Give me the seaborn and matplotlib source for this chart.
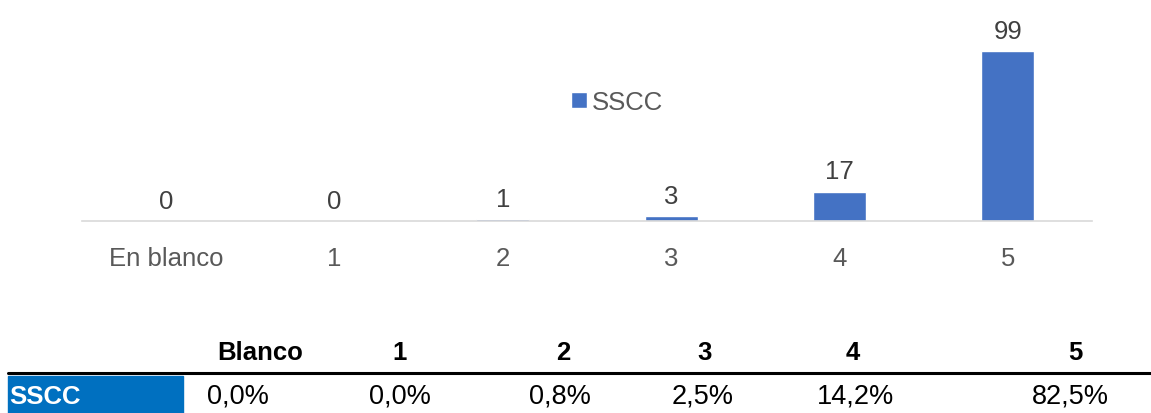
import numpy as np
import pandas as pd
import matplotlib
matplotlib.use("Agg")
import matplotlib.pyplot as plt
import seaborn as sns

# data
categories = ["En blanco", "1", "2", "3", "4", "5"]
counts = [0, 0, 1, 3, 17, 99]
table_header = ["Blanco", "1", "2", "3", "4", "5"]
table_values = ["0,0%", "0,0%", "0,8%", "2,5%", "14,2%", "82,5%"]
series_name = "SSCC"

sns.set_style("white")
plt.rcParams["font.family"] = ["Liberation Sans", "DejaVu Sans"]

df = pd.DataFrame({"cat": categories, "n": counts, "serie": series_name})

fig = plt.figure(figsize=(11.51, 4.14), dpi=100)
ax = fig.add_axes([82 / 1151, 192 / 414, 1010 / 1151, 212 / 414])

sns.barplot(data=df, x="cat", y="n", hue="serie", palette=["#4472C4"],
            saturation=1, width=0.315, ax=ax, legend=True)
ax.set_ylim(0, 123.5)
ax.set_xlim(-0.5, 5.5)
ax.set_xlabel("")
ax.set_ylabel("")
ax.set_yticks([])
for s in ["top", "left", "right"]:
    ax.spines[s].set_visible(False)
ax.spines["bottom"].set_color("#D9D9D9")
ax.spines["bottom"].set_linewidth(1.2)
ax.tick_params(axis="x", length=0, pad=18, labelsize=18.5, labelcolor="#595959")

for c in ax.containers:
    ax.bar_label(c, labels=[str(v) for v in counts], padding=6,
                 fontsize=18.5, color="#404040")

ax.legend(loc="center", bbox_to_anchor=(617 / 1151, 1 - 103 / 414),
          bbox_transform=fig.transFigure, frameon=False, fontsize=18.5,
          handlelength=0.6, handleheight=0.6, handletextpad=0.2,
          labelcolor="#595959")

# table below the chart
head_x = [260, 400, 563, 705, 853, 1075]
val_x = [238, 400, 560, 703, 855, 1070]
for lab, x in zip(table_header, head_x):
    fig.text(x / 1151, 1 - 353 / 414, lab, ha="center", va="center",
             fontsize=18.5, fontweight="bold", color="black")
fig.add_artist(plt.Line2D([8 / 1151, 1], [1 - 374 / 414] * 2, color="black",
                          lw=2.2, transform=fig.transFigure))
fig.add_artist(plt.Rectangle((8 / 1151, 0), 175 / 1151, 37 / 414,
                             color="#0070C0", transform=fig.transFigure))
fig.text(9 / 1151, 1 - 397 / 414, series_name, ha="left", va="center",
         fontsize=18.5, fontweight="bold", color="white")
for lab, x in zip(table_values, val_x):
    fig.text(x / 1151, 1 - 397 / 414, lab, ha="center", va="center",
             fontsize=19.5, color="black")

fig.savefig("out.png", dpi=100)
